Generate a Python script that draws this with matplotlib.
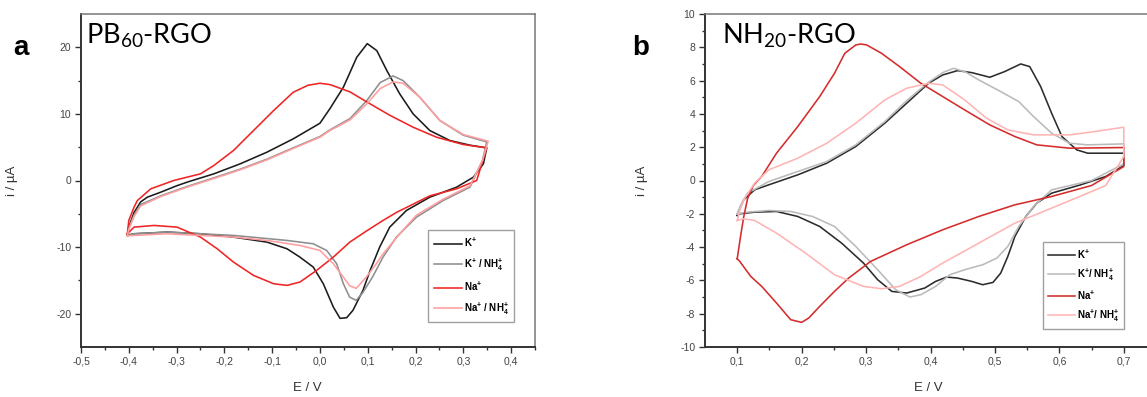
import numpy as np
import matplotlib
matplotlib.use('Agg')
import matplotlib.pyplot as plt
from matplotlib.ticker import FuncFormatter, MultipleLocator, FixedLocator

plt.rcParams['font.family'] = ['Liberation Sans', 'DejaVu Sans']
plt.rcParams['mathtext.default'] = 'regular'

#%% panel a : PB60-RGO, E / V vs i / uA (forward then reverse scan)
a_k_E = [-0.403, -0.40, -0.389, -0.375, -0.361, -0.333, -0.30, -0.278, -0.222, -0.167, -0.111,
         -0.056, 0.0, 0.021, 0.049, 0.077, 0.099, 0.119, 0.140, 0.167, 0.195, 0.230, 0.272,
         0.314, 0.349,
         0.342, 0.321, 0.286, 0.230, 0.181, 0.146, 0.125, 0.105, 0.090, 0.069, 0.056, 0.042,
         0.028, 0.007, -0.014, -0.042, -0.069, -0.111, -0.181, -0.25, -0.319, -0.389, -0.403]
a_k_i = [-8.2, -7.0, -4.8, -3.2, -2.5, -1.75, -0.8, -0.25, 1.0, 2.5, 4.25,
         6.25, 8.6, 10.8, 14.0, 18.5, 20.55, 19.5, 16.5, 13.0, 10.0, 7.5, 6.0,
         5.3, 4.9,
         2.5, 0.5, -1.0, -2.5, -4.5, -7.0, -10.0, -13.5, -16.5, -19.5, -20.6, -20.7,
         -19.0, -15.5, -13.0, -11.5, -10.25, -9.25, -8.5, -8.0, -7.75, -8.0, -8.2]

a_kn_E = [-0.403, -0.40, -0.389, -0.375, -0.333, -0.278, -0.222, -0.167, -0.111, -0.056, 0.0,
          0.021, 0.063, 0.098, 0.126, 0.153, 0.174, 0.209, 0.251, 0.300, 0.349,
          0.340, 0.314, 0.258, 0.202, 0.160, 0.132, 0.110, 0.090, 0.076, 0.062, 0.049,
          0.035, 0.014, -0.014, -0.069, -0.18, -0.319, -0.389, -0.403]
a_kn_i = [-8.3, -7.2, -5.2, -3.6, -2.3, -0.9, 0.4, 1.7, 3.2, 4.9, 6.6,
          7.6, 9.3, 12.0, 14.7, 15.7, 15.0, 12.5, 9.0, 6.8, 5.8,
          3.0, -1.0, -3.0, -5.5, -8.5, -11.5, -14.5, -16.8, -18.0, -17.5, -15.5,
          -12.5, -10.5, -9.5, -9.0, -8.25, -7.75, -8.0, -8.3]

a_na_E = [-0.403, -0.40, -0.389, -0.382, -0.354, -0.306, -0.25, -0.222, -0.181, -0.139, -0.097,
          -0.056, -0.025, 0.0, 0.021, 0.063, 0.098, 0.146, 0.195, 0.244, 0.300, 0.349,
          0.328, 0.286, 0.230, 0.160, 0.132, 0.097, 0.0625, 0.028, -0.007, -0.042, -0.069,
          -0.097, -0.139, -0.181, -0.215, -0.25, -0.299, -0.347, -0.389, -0.403]
a_na_i = [-8.0, -6.0, -4.0, -3.0, -1.25, 0.0, 1.0, 2.25, 4.5, 7.5, 10.5,
          13.25, 14.3, 14.6, 14.4, 13.3, 11.8, 9.8, 8.0, 6.5, 5.4, 4.9,
          0.0, -1.25, -2.3, -4.8, -6.0, -7.6, -9.25, -11.5, -13.5, -15.25, -15.75,
          -15.5, -14.25, -12.25, -10.25, -8.5, -7.0, -6.75, -7.0, -8.0]

a_nan_E = [-0.403, -0.40, -0.389, -0.375, -0.333, -0.278, -0.222, -0.167, -0.111, -0.056, 0.0,
           0.021, 0.063, 0.098, 0.126, 0.153, 0.174, 0.209, 0.251, 0.300, 0.352,
           0.340, 0.314, 0.258, 0.202, 0.167, 0.130, 0.118, 0.097, 0.076, 0.062, 0.049,
           0.028, 0.0, -0.042, -0.111, -0.18, -0.32, -0.39, -0.403]
a_nan_i = [-8.3, -7.3, -5.4, -3.8, -2.4, -1.0, 0.3, 1.6, 3.1, 4.8, 6.5,
           7.5, 9.1, 11.5, 13.8, 14.8, 14.6, 12.5, 9.0, 6.9, 5.9,
           3.0, -0.8, -2.8, -5.2, -8.0, -11.2, -12.5, -14.5, -16.2, -15.8, -14.5,
           -12.5, -10.5, -9.75, -9.0, -8.5, -8.0, -8.25, -8.3]

#%% panel b : NH20-RGO
b_k_E = [0.1, 0.104, 0.110, 0.127, 0.149, 0.194, 0.239, 0.284, 0.329, 0.363, 0.397, 0.419,
         0.442, 0.464, 0.492, 0.515, 0.540, 0.554, 0.571, 0.588, 0.604, 0.627, 0.644, 0.70,
         0.70, 0.672, 0.633, 0.588, 0.565, 0.548, 0.531, 0.520, 0.509, 0.497, 0.481, 0.464,
         0.442, 0.425, 0.408, 0.391, 0.363, 0.340, 0.318, 0.296, 0.262, 0.228, 0.194, 0.161,
         0.127, 0.104, 0.1]
b_k_i = [-2.1, -1.7, -1.16, -0.56, -0.26, 0.34, 1.04, 2.04, 3.44, 4.64, 5.84, 6.34,
         6.6, 6.48, 6.2, 6.54, 7.0, 6.84, 5.64, 4.04, 2.64, 1.84, 1.64, 1.64,
         0.9, 0.24, -0.26, -0.76, -1.36, -2.16, -3.36, -4.56, -5.56, -6.12, -6.26, -6.06,
         -5.86, -5.8, -6.06, -6.46, -6.76, -6.66, -5.96, -4.96, -3.76, -2.76, -2.16, -1.86,
         -1.9, -2.0, -2.1]

b_kn_E = [0.1, 0.105, 0.116, 0.149, 0.194, 0.239, 0.284, 0.329, 0.363, 0.397, 0.420, 0.436,
          0.455, 0.475, 0.509, 0.537, 0.560, 0.588, 0.616, 0.644, 0.70,
          0.70, 0.65, 0.588, 0.560, 0.537, 0.520, 0.503, 0.481, 0.453, 0.430, 0.408, 0.385,
          0.368, 0.346, 0.318, 0.284, 0.251, 0.217, 0.183, 0.149, 0.116, 0.1]
b_kn_i = [-2.0, -1.5, -0.76, -0.06, 0.54, 1.14, 2.14, 3.54, 4.8, 5.9, 6.5, 6.74,
          6.5, 6.04, 5.34, 4.74, 3.84, 2.84, 2.24, 2.14, 2.2,
          1.0, 0.0, -0.56, -1.56, -2.76, -3.96, -4.66, -5.06, -5.36, -5.66, -6.36, -6.86,
          -7.0, -6.56, -5.36, -3.96, -2.76, -2.16, -1.86, -1.8, -1.9, -2.0]

b_na_E = [0.1, 0.105, 0.110, 0.116, 0.125, 0.138, 0.161, 0.194, 0.228, 0.251, 0.267, 0.284,
          0.292, 0.301, 0.324, 0.352, 0.385, 0.419, 0.453, 0.492, 0.531, 0.565, 0.616, 0.70,
          0.70, 0.65, 0.588, 0.531, 0.475, 0.419, 0.363, 0.307, 0.273, 0.251, 0.228, 0.211,
          0.2, 0.183, 0.161, 0.138, 0.121, 0.104, 0.1]
b_na_i = [-4.7, -3.4, -2.2, -1.1, -0.3, 0.24, 1.64, 3.24, 5.04, 6.44, 7.64, 8.14,
          8.2, 8.14, 7.64, 6.84, 5.84, 5.04, 4.24, 3.34, 2.64, 2.14, 1.94, 1.98,
          0.84, -0.3, -0.96, -1.46, -2.16, -2.96, -3.86, -4.86, -5.86, -6.66, -7.56, -8.26,
          -8.52, -8.36, -7.36, -6.36, -5.76, -4.86, -4.7]

b_nan_E = [0.1, 0.104, 0.110, 0.127, 0.149, 0.194, 0.239, 0.284, 0.329, 0.363, 0.397, 0.419,
           0.453, 0.487, 0.52, 0.560, 0.616, 0.655, 0.70,
           0.70, 0.672, 0.644, 0.588, 0.531, 0.475, 0.419, 0.385, 0.352, 0.324, 0.296, 0.251,
           0.206, 0.161, 0.127, 0.110, 0.1]
b_nan_i = [-2.4, -1.8, -1.16, -0.16, 0.64, 1.34, 2.24, 3.44, 4.84, 5.54, 5.84, 5.74,
           4.84, 3.74, 3.04, 2.74, 2.74, 2.94, 3.2,
           1.44, -0.3, -0.76, -1.66, -2.56, -3.76, -4.96, -5.76, -6.36, -6.5, -6.36, -5.66,
           -4.36, -3.16, -2.4, -2.3, -2.4]

labels_a = ['K$^{+}$', 'K$^{+}$ / NH$_4^{+}$', 'Na$^{+}$', 'Na$^{+}$ / NH$_4^{+}$']
labels_b = ['K$^{+}$', 'K$^{+}$/ NH$_4^{+}$', 'Na$^{+}$', 'Na$^{+}$/ NH$_4^{+}$']
cols_a = ['#1c1c1c', '#8e8e8e', '#f02424', '#ff9e9e']
cols_b = ['#2c2c2c', '#bababa', '#d42c2c', '#ffb4b4']

#%% figure
fig = plt.figure(figsize=(11.47, 3.97), dpi=100)
ax1 = fig.add_axes([81/1147, 50/397, 454/1147, 333/397])
ax2 = fig.add_axes([705/1147, 50/397, 451/1147, 333/397])

xfmt = FuncFormatter(lambda v, p: f'{round(v, 2) + 0:.1f}'.replace('.', ','))
yfmt = FuncFormatter(lambda v, p: f'{round(v) + 0:.0f}')


def style(ax):
    for s in ['left', 'bottom']:
        ax.spines[s].set_color('#333333')
        ax.spines[s].set_linewidth(1.4)
    for s in ['top', 'right']:
        ax.spines[s].set_color('#777777')
        ax.spines[s].set_linewidth(1.1)
    ax.tick_params(which='both', direction='out', top=False, right=False,
                   color='#333333', width=1.0, labelsize=7.5, labelcolor='#444444', pad=2.5)
    ax.tick_params(which='major', length=4.5)
    ax.tick_params(which='minor', length=2.5)
    ax.xaxis.set_major_formatter(xfmt)
    ax.yaxis.set_major_formatter(yfmt)
    ax.set_xlabel('E / V', fontsize=9.5, color='#333333')
    ax.set_ylabel('i / µA', fontsize=9.5, color='#333333')


series_a = [(a_k_E, a_k_i), (a_kn_E, a_kn_i), (a_na_E, a_na_i), (a_nan_E, a_nan_i)]
for (E, I), c, lab in zip(series_a, cols_a, labels_a):
    ax1.plot(E, I, color=c, lw=1.15, label=lab, solid_joinstyle='round')
ax1.set_xlim(-0.5, 0.45)
ax1.set_ylim(-25, 25)
ax1.xaxis.set_major_locator(FixedLocator(np.arange(-0.5, 0.41, 0.1)))
ax1.xaxis.set_minor_locator(FixedLocator(np.arange(-0.45, 0.451, 0.1)))
ax1.yaxis.set_major_locator(FixedLocator([-20, -10, 0, 10, 20]))
ax1.yaxis.set_minor_locator(FixedLocator([-15, -5, 5, 15]))
style(ax1)
ax1.yaxis.set_label_coords(-0.139, 0.5)
ax1.xaxis.set_label_coords(0.498, -0.105)
ax1.text(0.011, 0.91, 'PB$_{60}$-RGO', transform=ax1.transAxes, fontsize=19.5,
         family=['Lato', 'DejaVu Sans'], va='baseline')
leg1 = ax1.legend(loc='lower right', bbox_to_anchor=(0.965, 0.06),
                  prop={'weight': 'bold', 'size': 7}, frameon=True, fancybox=False,
                  handlelength=2.9, labelspacing=0.75, borderpad=0.55, handletextpad=0.2)
leg1.get_frame().set_edgecolor('#888888')
leg1.get_frame().set_linewidth(1.0)

series_b = [(b_k_E, b_k_i), (b_kn_E, b_kn_i), (b_na_E, b_na_i), (b_nan_E, b_nan_i)]
for (E, I), c, lab in zip(series_b, cols_b, labels_b):
    ax2.plot(E, I, color=c, lw=1.15, label=lab, solid_joinstyle='round')
ax2.set_xlim(0.05, 0.75)
ax2.set_ylim(-10, 10)
ax2.xaxis.set_major_locator(FixedLocator(np.arange(0.1, 0.71, 0.1)))
ax2.xaxis.set_minor_locator(FixedLocator(np.arange(0.15, 0.76, 0.1)))
ax2.yaxis.set_major_locator(MultipleLocator(2))
ax2.yaxis.set_minor_locator(MultipleLocator(1))
style(ax2)
ax2.yaxis.set_label_coords(-0.126, 0.5)
ax2.xaxis.set_label_coords(0.496, -0.105)
ax2.text(0.037, 0.912, 'NH$_{20}$-RGO', transform=ax2.transAxes, fontsize=19.5,
         family=['Lato', 'DejaVu Sans'], va='baseline')
leg2 = ax2.legend(loc='lower right', bbox_to_anchor=(0.94, 0.04),
                  prop={'weight': 'bold', 'size': 7}, frameon=True, fancybox=False,
                  handlelength=2.8, labelspacing=0.6, borderpad=0.5, handletextpad=0.2)
leg2.get_frame().set_edgecolor('#888888')
leg2.get_frame().set_linewidth(1.0)

fig.text(13/1147, 1 - 55/397, 'a', fontsize=20, fontweight='bold', va='baseline')
fig.text(632/1147, 1 - 55/397, 'b', fontsize=20, fontweight='bold', va='baseline')

fig.savefig('out.png', dpi=100)
